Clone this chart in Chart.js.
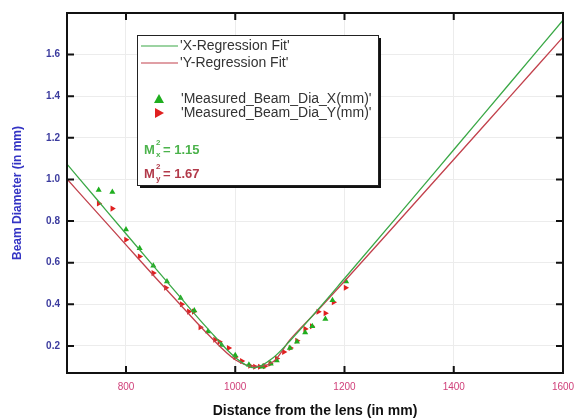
<!DOCTYPE html>
<html>
<head>
<meta charset="utf-8">
<script src="https://cdn.jsdelivr.net/npm/chart.js@4.4.1/dist/chart.umd.min.js"></script>
<style>
  html, body { margin: 0; padding: 0; background: #fff; }
  #wrap { width: 574px; height: 420px; }
</style>
</head>
<body>
<div id="wrap"><canvas id="beam" width="574" height="420"></canvas></div>
<script>
// tick labels
const xTicks = [800, 1000, 1200, 1400, 1600];
const yTicks = [0.2, 0.4, 0.6, 0.8, 1.0, 1.2, 1.4, 1.6];

// measured beam diameter, X direction (green triangles)
const measXPos = [750, 775, 800, 825, 850, 875, 900, 925, 950, 975, 1000, 1025, 1050, 1065, 1076, 1100, 1113, 1128, 1141, 1165, 1178, 1203];
const measXDia = [0.95, 0.94, 0.76, 0.67, 0.585, 0.51, 0.43, 0.37, 0.27, 0.205, 0.155, 0.11, 0.10, 0.115, 0.13, 0.19, 0.22, 0.265, 0.295, 0.33, 0.42, 0.51];

// measured beam diameter, Y direction (red triangles)
const measYPos = [750, 775, 800, 825, 850, 873, 902, 915, 924, 936, 963, 971, 988, 1000, 1012, 1027, 1036, 1045, 1054, 1064, 1076, 1089, 1101, 1113, 1128, 1140, 1152, 1165, 1180, 1202];
const measYDia = [0.885, 0.86, 0.71, 0.63, 0.55, 0.48, 0.40, 0.365, 0.365, 0.29, 0.23, 0.22, 0.19, 0.147, 0.128, 0.105, 0.10, 0.10, 0.103, 0.115, 0.14, 0.171, 0.19, 0.225, 0.282, 0.295, 0.364, 0.357, 0.41, 0.48];

// regression fit curves
const fitPos  = [692, 750, 800, 850, 900, 950, 1000, 1035, 1070, 1100, 1150, 1200, 1300, 1400, 1500, 1600];
const fitXDia = [1.074, 0.894, 0.739, 0.585, 0.432, 0.282, 0.145, 0.095, 0.145, 0.224, 0.371, 0.524, 0.832, 1.143, 1.454, 1.765];
const fitYDia = [1.002, 0.832, 0.686, 0.540, 0.397, 0.256, 0.134, 0.102, 0.125, 0.229, 0.368, 0.511, 0.803, 1.096, 1.390, 1.684];

const greenLine = '#3aa846';
const redLine = '#c2414c';
const greenPt = '#1fae1f';
const redPt = '#e02020';

function pts(xs, ys) {
  return xs.map((x, i) => ({ x: x, y: ys[i] }));
}

// frame, inward ticks and the boxed legend
const framePlugin = {
  id: 'frame',
  afterDatasetsDraw(chart) {
    const ctx = chart.ctx;
    const a = chart.chartArea;
    const xs = chart.scales.x, ys = chart.scales.y;
    ctx.save();
    ctx.strokeStyle = '#111';
    ctx.lineWidth = 2;
    ctx.strokeRect(a.left, a.top, a.right - a.left, a.bottom - a.top);
    ctx.beginPath();
    xTicks.forEach(v => {
      const p = xs.getPixelForValue(v);
      ctx.moveTo(p, a.bottom); ctx.lineTo(p, a.bottom - 7);
      ctx.moveTo(p, a.top); ctx.lineTo(p, a.top + 7);
    });
    yTicks.forEach(v => {
      const p = ys.getPixelForValue(v);
      ctx.moveTo(a.left, p); ctx.lineTo(a.left + 7, p);
      ctx.moveTo(a.right, p); ctx.lineTo(a.right - 7, p);
    });
    ctx.stroke();

    // legend box
    const bx = 137, by = 35, bw = 241, bh = 150;
    ctx.fillStyle = '#111';
    ctx.fillRect(bx + 3, by + 3, bw, bh);
    ctx.fillStyle = '#fff';
    ctx.fillRect(bx, by, bw, bh);
    ctx.lineWidth = 1;
    ctx.strokeStyle = '#222';
    ctx.strokeRect(bx + 0.5, by + 0.5, bw, bh);

    ctx.font = '14px "Liberation Sans", Arial, sans-serif';
    ctx.textBaseline = 'middle';
    ctx.textAlign = 'left';
    ctx.lineWidth = 1.2;
    ctx.strokeStyle = greenLine;
    ctx.beginPath(); ctx.moveTo(141, 46); ctx.lineTo(178, 46); ctx.stroke();
    ctx.strokeStyle = redLine;
    ctx.beginPath(); ctx.moveTo(141, 63); ctx.lineTo(178, 63); ctx.stroke();
    ctx.fillStyle = '#333';
    ctx.fillText("'X-Regression Fit'", 180, 46);
    ctx.fillText("'Y-Regression Fit'", 180, 63);
    ctx.fillText("'Measured_Beam_Dia_X(mm)'", 181, 99);
    ctx.fillText("'Measured_Beam_Dia_Y(mm)'", 181, 113);

    ctx.fillStyle = greenPt;
    ctx.beginPath(); ctx.moveTo(159, 94); ctx.lineTo(164, 103); ctx.lineTo(154, 103); ctx.closePath(); ctx.fill();
    ctx.fillStyle = redPt;
    ctx.beginPath(); ctx.moveTo(155, 108); ctx.lineTo(164, 113); ctx.lineTo(155, 118); ctx.closePath(); ctx.fill();

    function mLine(y, color, sub, val) {
      ctx.fillStyle = color;
      ctx.font = 'bold 13px "Liberation Sans", Arial, sans-serif';
      ctx.fillText('M', 144, y);
      ctx.font = 'bold 8px "Liberation Sans", Arial, sans-serif';
      ctx.fillText('2', 156, y - 7);
      ctx.fillText(sub, 156, y + 5);
      ctx.font = 'bold 13px "Liberation Sans", Arial, sans-serif';
      ctx.fillText('= ' + val, 163, y);
    }
    mLine(150, '#4cb34c', 'x', '1.15');
    mLine(174, '#b23a4a', 'y', '1.67');
    ctx.restore();
  }
};

new Chart(document.getElementById('beam'), {
  type: 'scatter',
  data: {
    datasets: [
      {
        label: "'X-Regression Fit'",
        type: 'line',
        data: pts(fitPos, fitXDia),
        borderColor: greenLine,
        borderWidth: 1.3,
        pointRadius: 0,
        cubicInterpolationMode: 'monotone',
        fill: false
      },
      {
        label: "'Y-Regression Fit'",
        type: 'line',
        data: pts(fitPos, fitYDia),
        borderColor: redLine,
        borderWidth: 1.3,
        pointRadius: 0,
        cubicInterpolationMode: 'monotone',
        fill: false
      },
      {
        label: "'Measured_Beam_Dia_X(mm)'",
        data: pts(measXPos, measXDia),
        pointStyle: 'triangle',
        pointRadius: 3.5,
        backgroundColor: greenPt,
        borderColor: greenPt,
        borderWidth: 0
      },
      {
        label: "'Measured_Beam_Dia_Y(mm)'",
        data: pts(measYPos, measYDia),
        pointStyle: 'triangle',
        rotation: 90,
        pointRadius: 3.5,
        backgroundColor: redPt,
        borderColor: redPt,
        borderWidth: 0
      }
    ]
  },
  options: {
    responsive: false,
    animation: false,
    devicePixelRatio: 1,
    layout: { padding: { top: 13, right: 11, left: 10, bottom: 0 } },
    plugins: { legend: { display: false }, tooltip: { enabled: false } },
    scales: {
      x: {
        type: 'linear',
        min: 692,
        max: 1600,
        afterBuildTicks: s => { s.ticks = xTicks.map(v => ({ value: v })); },
        afterFit: s => { s.height = 47; s.paddingRight = 0; s.paddingLeft = 0; },
        grid: { color: '#ececec', drawTicks: false },
        border: { display: false },
        ticks: {
          color: '#d0407a',
          padding: 8,
          callback: v => String(v),
          font: { family: 'Liberation Sans, Arial, sans-serif', size: 10 }
        },
        title: {
          display: true,
          text: 'Distance from the lens (in mm)',
          color: '#111',
          padding: { top: 2, bottom: 0 },
          font: { family: 'Liberation Sans, Arial, sans-serif', size: 14, weight: 'bold' }
        }
      },
      y: {
        type: 'linear',
        min: 0.07,
        max: 1.8,
        afterBuildTicks: s => { s.ticks = yTicks.map(v => ({ value: v })); },
        afterFit: s => { s.width = 57; },
        grid: { color: '#ececec', drawTicks: false },
        border: { display: false },
        ticks: {
          color: '#3b3b9e',
          padding: 7,
          callback: v => v.toFixed(1),
          font: { family: 'Liberation Sans, Arial, sans-serif', size: 10, weight: 'bold' }
        },
        title: {
          display: true,
          text: 'Beam Diameter (in mm)',
          color: '#3434c4',
          padding: { top: 0, bottom: 4 },
          font: { family: 'Liberation Sans, Arial, sans-serif', size: 12, weight: 'bold' }
        }
      }
    }
  },
  plugins: [framePlugin]
});
</script>
</body>
</html>
